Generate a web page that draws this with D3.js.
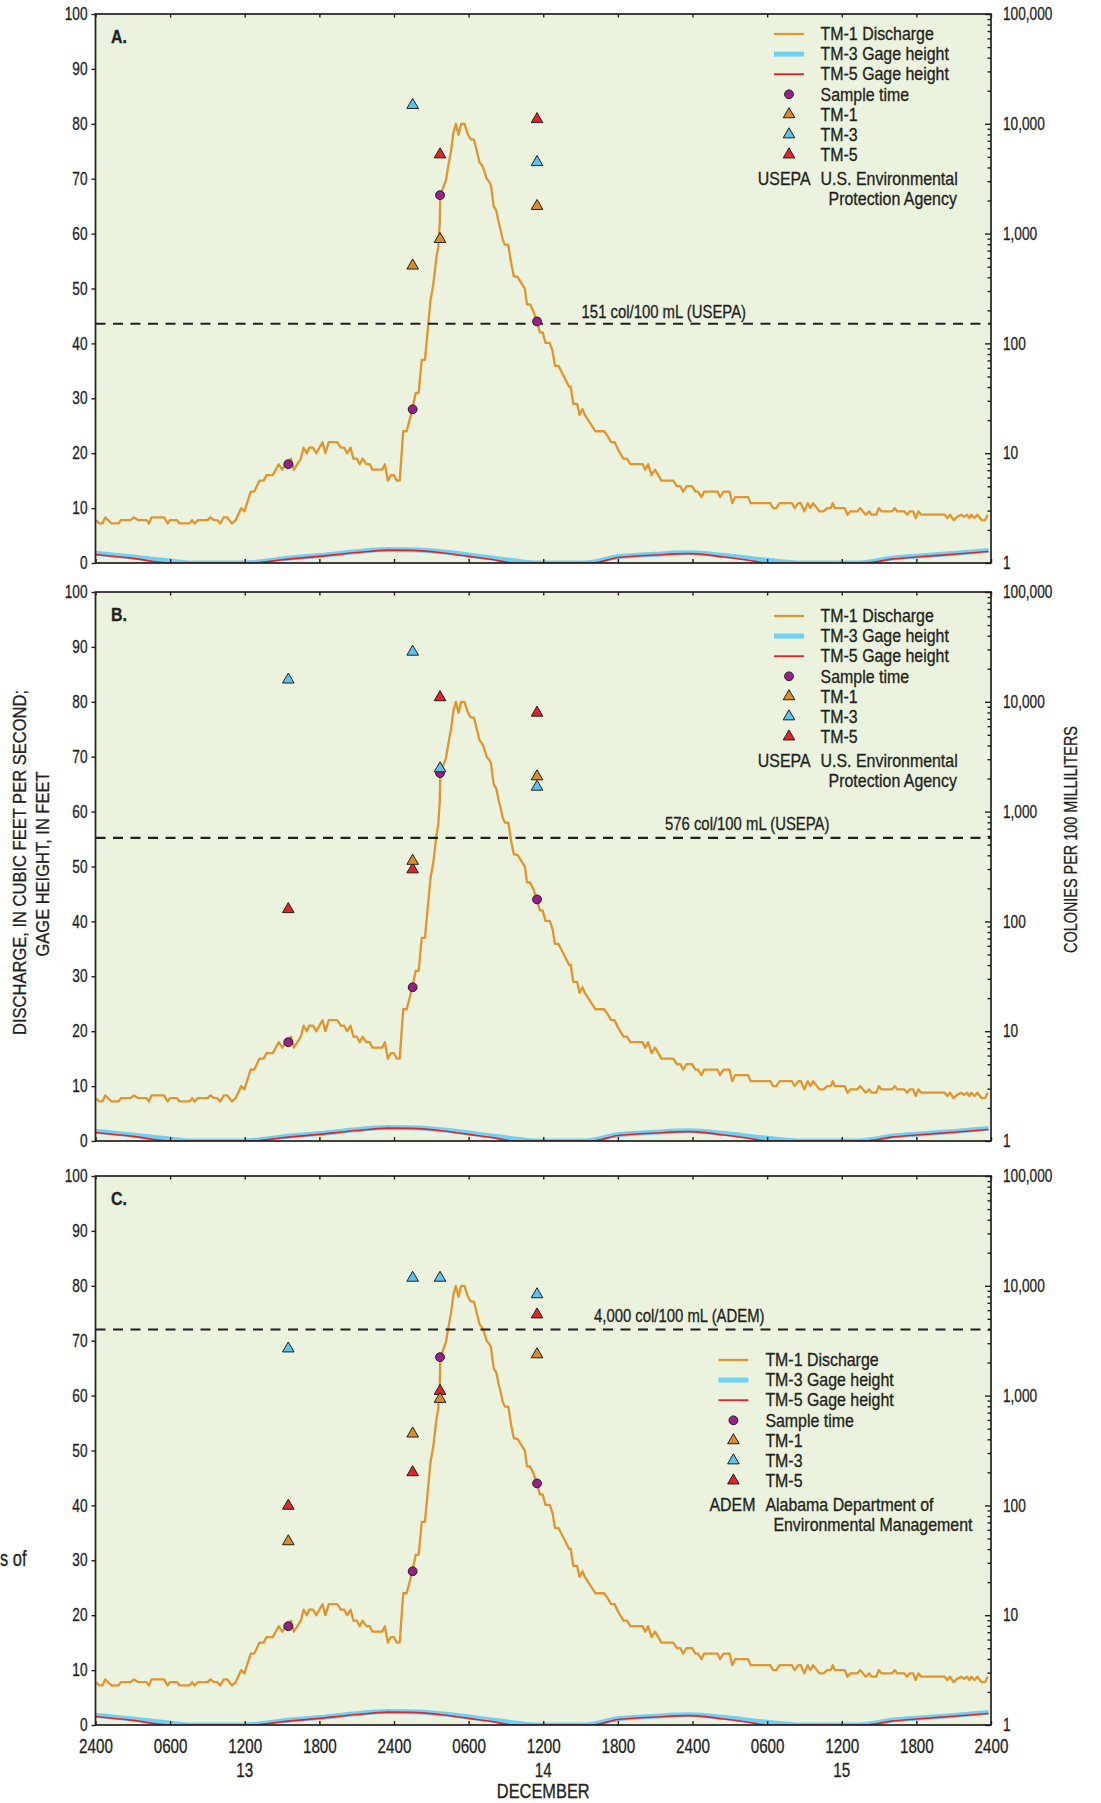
<!DOCTYPE html>
<html lang="en">
<head>
<meta charset="UTF-8">
<title>Discharge, gage height and bacteria, December 13-15</title>
<style>
  body, html { margin: 0; background: #fff; }
  svg text { font-family: "Liberation Sans", Arial, sans-serif; fill: #231f20; stroke: #231f20; stroke-width: 0.3px; }
</style>
<script src="https://d3js.org/d3.v7.min.js"></script>
</head>
<body>
<svg id="chart" width="1101" height="1803"></svg>
<script>
// ---- data (time in hours after 2400 Dec 12) ----
const timeTicks = [0, 6, 12, 18, 24, 30, 36, 42, 48, 54, 60, 66, 72];
const timeLabels = ["2400","0600","1200","1800","2400","0600","1200","1800","2400","0600","1200","1800","2400"];
const dayTicks = [12, 36, 60];
const dayLabels = ["13", "14", "15"];
const monthLabel = "DECEMBER";

// TM-1 discharge, cubic feet per second
const discharge = [
  [0.05,7.8],[0.30,7.2],[0.56,7.2],[0.78,8.3],[1.29,7.2],[1.85,7.2],[2.05,7.8],[2.81,7.8],[3.09,8.3],[3.46,7.8],
  [4.11,7.8],[4.30,7.2],[4.50,8.3],[5.52,8.3],[5.80,7.2],[5.99,7.8],[6.56,7.8],[6.76,7.2],[7.55,7.2],[7.77,7.8],
  [7.97,7.2],[8.25,7.8],[9.01,7.8],[9.24,8.3],[9.52,7.8],[9.80,7.8],[10.03,7.2],[10.31,8.3],[10.59,8.3],[10.98,7.2],
  [11.27,7.8],[11.72,10.0],[11.97,9.4],[12.48,13.0],[12.76,13.0],[13.18,15.0],[13.52,15.0],[13.75,16.0],[14.25,16.0],
  [14.73,18.0],[15.02,17.0],[15.30,18.0],[15.72,19.0],[15.95,17.0],[16.23,18.0],[16.51,19.0],[16.73,21.0],[16.99,20.0],
  [17.18,21.0],[17.49,21.0],[17.75,20.0],[18.26,22.0],[18.48,20.0],[18.76,22.0],[19.44,22.0],[19.72,21.0],[20.0,21.0],
  [20.23,20.0],[20.51,21.0],[20.74,19.0],[21.02,19.0],[21.24,18.0],[21.47,19.0],[21.78,18.0],[22.06,18.0],[22.26,17.0],
  [23.05,17.0],[23.27,18.0],[23.5,15.0],[23.75,16.0],[24.0,16.0],[24.23,15.0],[24.46,15.0],[24.74,24.0],[25.02,24.0],
  [25.25,26.0],[25.47,28.0],[25.75,31.0],[25.98,31.0],[26.23,37.0],[26.49,37.0],[26.94,48.0],[27.14,50.4],[27.42,55.8],
  [27.56,57.6],[27.68,62.0],[27.72,67.0],[27.9,68.0],[28.18,69.8],[28.40,72.8],[28.60,75.2],[28.77,78.3],[28.97,80.0],
  [29.19,78.0],[29.40,80.0],[29.67,80.0],[29.90,78.3],[30.09,77.4],[30.26,77.1],[30.43,77.1],[30.66,75.0],[30.88,73.0],
  [31.08,72.4],[31.22,71.7],[31.45,70.0],[31.64,69.5],[31.79,68.9],[32.01,65.0],[32.24,64.1],[32.40,62.2],[32.57,60.7],
  [32.74,58.9],[32.91,58.0],[33.19,58.0],[33.42,54.6],[33.64,52.2],[33.93,52.1],[34.32,50.7],[34.52,50.0],[34.69,47.1],
  [34.94,47.1],[35.22,45.8],[35.48,44.0],[35.73,42.0],[35.96,42.0],[36.18,40.1],[36.52,40.1],[36.75,38.6],[36.94,35.9],
  [37.23,35.9],[37.65,34.0],[38.07,32.1],[38.21,32.1],[38.41,29.0],[38.72,29.0],[38.92,27.0],[39.15,28.0],[39.34,27.0],
  [39.77,25.5],[40.19,24.0],[40.90,24.0],[41.18,23.1],[41.46,22.0],[41.74,22.0],[42.03,20.6],[42.45,19.0],[42.73,19.0],
  [43.01,18.0],[44.0,18.0],[44.2,17.0],[44.43,18.0],[44.71,16.0],[44.99,17.0],[45.5,15.0],[46.46,15.0],[46.74,14.0],
  [47.02,14.0],[47.25,13.0],[47.53,14.0],[47.96,14.0],[48.24,13.0],[48.44,13.0],[48.72,12.0],[48.94,13.0],[50.02,13.0],
  [50.21,12.0],[50.5,13.0],[50.98,13.0],[51.2,10.9],[51.43,12.0],[52.47,12.0],[52.67,10.9],[54.25,10.9],[54.48,10.0],
  [54.73,10.0],[55.01,10.9],[56.0,10.9],[56.2,10.0],[56.51,10.9],[56.71,10.9],[56.99,9.4],[57.27,10.9],[57.47,10.0],
  [57.7,10.9],[58.2,9.4],[58.54,9.4],[58.83,10.0],[59.11,10.0],[59.28,10.9],[59.45,10.0],[60.24,10.0],[60.46,8.8],
  [60.69,9.4],[61.25,9.4],[61.48,10.0],[61.93,8.8],[62.21,9.4],[62.38,8.8],[62.78,8.8],[62.98,10.0],[63.2,9.4],
  [64.05,9.4],[64.25,10.0],[64.47,9.4],[65.04,9.4],[65.26,8.8],[65.46,9.4],[65.74,9.4],[65.94,8.2],[66.17,9.4],
  [66.39,8.8],[68.28,8.8],[68.48,8.2],[68.71,8.8],[68.99,7.8],[69.27,8.4],[69.61,8.8],[69.84,8.4],[70.06,8.8],
  [70.26,8.2],[70.4,8.8],[70.68,8.2],[70.91,8.8],[71.25,7.8],[71.53,7.8],[71.73,8.8]
];

// gage height, feet
const gageTM3 = [[0,1.75],[3,1.1],[6,0.35],[7.5,0],[12,0],[15,0.75],[18,1.35],[21,2.05],[23.5,2.45],[26,2.35],
  [28,2.0],[30,1.45],[33,0.6],[35.4,0],[39.3,0],[42,1.15],[45,1.6],[47.8,1.85],[50.6,1.35],[54,0.5],[56.8,0],
  [61.4,0],[64,0.85],[66,1.25],[69,1.75],[71.8,2.3]];
const gageTM5 = [[0,1.55],[3,0.85],[6,0],[12.7,0],[15,0.6],[18,1.2],[21,1.9],[23.5,2.35],[25.5,2.3],[27.5,1.95],
  [30,1.2],[32,0.6],[33.5,0],[39.9,0],[42,1.0],[45,1.45],[47.8,1.7],[50.5,1.1],[52.5,0.5],[54,0],[61.9,0],
  [64,0.7],[66,1.1],[69,1.6],[71.8,2.1]];

// sample times and discharge at sampling
const sampleTimes = [15.5, 25.5, 27.7, 35.5];
const sampleQ = [18, 28, 67, 44];

// colonies per 100 mL, by panel, by sample (null = not shown)
const panelNames = ["A.", "B.", "C."];
const tm1Counts = [[null, 510, 890, 1780], [null, 355, null, 2090], [47, 450, 930, 2370]];
const tm3Counts = [[null, 14800, null, 4470], [15900, 28500, 2470, 1680], [2680, 11800, 11800, 8350]];
const tm5Counts = [[null, null, 5250, 11000], [129, 297, 10970, 7940], [99, 200, 1100, 5470]];
const criteria = [151, 576, 4000];
const criteriaLabels = ["151 col/100 mL (USEPA)", "576 col/100 mL (USEPA)", "4,000 col/100 mL (ADEM)"];

const legendLabels = ["TM-1 Discharge", "TM-3 Gage height", "TM-5 Gage height", "Sample time", "TM-1", "TM-3", "TM-5"];
const agencyAbbr = ["USEPA", "USEPA", "ADEM"];
const agencyName = [["U.S. Environmental", "Protection Agency"], ["U.S. Environmental", "Protection Agency"],
  ["Alabama Department of", "Environmental Management"]];

// ---- layout ----
const svg = d3.select("#chart");
const left = 95.5, right = 991, panelH = 549;
const panelTops = [14, 592, 1176];
const legendPos = [
  {sx: 789, tx: 820.6, y0: 20},
  {sx: 789, tx: 820.6, y0: 24},
  {sx: 733.4, tx: 765.4, y0: 184}
];
const critLabelPos = [{x: 581.6, dy: -6}, {x: 665, dy: -8}, {x: 594, dy: -7}];
const ink = "#231f20";
const col = {
  bg: "#ebf2dd", q: "#e0952f", tm1: "#d98c2c", tm3: "#5cc4ec", tm3line: "#70d0f4",
  tm5: "#e3232b", sample: "#9c1d8c"
};
const fs = 17.5, fsBig = 19.5;
const sqWords = 0.91, sqNums = 0.78, sqCaps = 0.84;

// narrow the glyphs horizontally around each text's anchor (condensed face look)
function squeeze(sel, s) {
  sel.each(function () {
    const t = d3.select(this);
    const x0 = +t.attr("x") || 0, y0 = +t.attr("y") || 0;
    t.attr("transform", `translate(${x0},${y0}) scale(${s},1) translate(${-x0},${-y0})`);
  });
}

const x = d3.scaleLinear().domain([0, 72]).range([left, right]);
const tri = d3.symbol(d3.symbolTriangle, 58);

panelNames.forEach((name, i) => {
  const top = panelTops[i], bottom = top + panelH;
  const yQ = d3.scaleLinear().domain([0, 100]).range([bottom, top]);
  const yC = d3.scaleLog().domain([1, 1e5]).range([bottom, top]);
  const g = svg.append("g");

  svg.append("clipPath").attr("id", "clip" + i)
    .append("rect").attr("x", left).attr("y", top).attr("width", right - left).attr("height", panelH);

  g.append("rect").attr("x", left).attr("y", top).attr("width", right - left).attr("height", panelH)
    .attr("fill", col.bg);

  const plot = g.append("g").attr("clip-path", `url(#clip${i})`);

  // gage heights
  const gLine = d3.line().x(d => x(d[0])).y(d => yQ(d[1])).curve(d3.curveMonotoneX);
  plot.append("path").datum(gageTM3).attr("d", gLine).attr("fill", "none")
    .attr("stroke", col.tm3line).attr("stroke-width", 5);
  plot.append("path").datum(gageTM5).attr("d", gLine).attr("fill", "none")
    .attr("stroke", col.tm5).attr("stroke-width", 1.6);

  // discharge
  const qLine = d3.line().x(d => x(d[0])).y(d => yQ(d[1]));
  plot.append("path").datum(discharge).attr("d", qLine).attr("fill", "none")
    .attr("stroke", col.q).attr("stroke-width", 2.3).attr("stroke-linejoin", "round");

  // criterion line
  g.append("line").attr("x1", left).attr("x2", right)
    .attr("y1", yC(criteria[i])).attr("y2", yC(criteria[i]))
    .attr("stroke", ink).attr("stroke-width", 2.2).attr("stroke-dasharray", "10,7.5");
  g.append("text").attr("x", critLabelPos[i].x).attr("y", yC(criteria[i]) + critLabelPos[i].dy)
    .attr("font-size", fs).text(criteriaLabels[i]).call(squeeze, 0.85);

  // sample times
  g.selectAll(".smp").data(sampleTimes).join("circle")
    .attr("cx", d => x(d)).attr("cy", (d, j) => yQ(sampleQ[j])).attr("r", 4.4)
    .attr("fill", col.sample).attr("stroke", ink).attr("stroke-width", 1);

  // bacteria triangles
  [[tm5Counts, col.tm5], [tm1Counts, col.tm1], [tm3Counts, col.tm3]].forEach(([counts, c]) => {
    counts[i].forEach((v, j) => {
      if (v == null) return;
      g.append("path").attr("d", tri)
        .attr("transform", `translate(${x(sampleTimes[j])},${yC(v)})`)
        .attr("fill", c).attr("stroke", ink).attr("stroke-width", 1);
    });
  });

  // axes
  const axL = g.append("g").attr("transform", `translate(${left},0)`)
    .call(d3.axisLeft(yQ).tickValues(d3.range(0, 101, 10)).tickSize(4).tickSizeOuter(0).tickPadding(4));
  const axR = g.append("g").attr("transform", `translate(${right},0)`)
    .call(d3.axisRight(yC).tickValues([1, 10, 100, 1000, 10000, 100000]).tickSize(-6).tickSizeOuter(0)
      .tickPadding(12).tickFormat(d3.format(",")));
  const minors = [];
  [1, 10, 100, 1000, 10000].forEach(dec => { for (let k = 2; k <= 9; k++) minors.push(dec * k); });
  const axRm = g.append("g").attr("transform", `translate(${right},0)`)
    .call(d3.axisRight(yC).tickValues(minors).tickSize(-3.5).tickSizeOuter(0).tickFormat(""));
  const axT = g.append("g").attr("transform", `translate(0,${top})`)
    .call(d3.axisTop(x).tickValues(timeTicks).tickSize(-3.5).tickSizeOuter(0).tickFormat(""));
  const axB = g.append("g").attr("transform", `translate(0,${bottom})`)
    .call(d3.axisBottom(x).tickValues(timeTicks).tickSize(-4).tickSizeOuter(0)
      .tickPadding(14).tickFormat(i === 2 ? ((d, k) => timeLabels[k]) : ""));
  [axL, axR, axRm, axT, axB].forEach(a => {
    a.select(".domain").remove();
    a.selectAll("line").attr("stroke", ink).attr("stroke-width", 1.4);
    a.selectAll("text").attr("font-size", fs).attr("font-family", null).attr("fill", ink);
  });
  axB.selectAll("text").attr("font-size", fsBig);
  [axL, axR, axB].forEach(a => a.selectAll("text").call(squeeze, sqNums));

  g.append("rect").attr("x", left).attr("y", top).attr("width", right - left).attr("height", panelH)
    .attr("fill", "none").attr("stroke", ink).attr("stroke-width", 1.7);

  g.append("text").attr("x", 111).attr("y", top + 29.5).attr("font-size", fs)
    .attr("font-weight", "bold").text(name).call(squeeze, sqWords);

  // legend
  const lp = legendPos[i];
  const rowY = k => top + lp.y0 + k * 20.1;
  const lg = g.append("g");
  const lineStyles = [[col.q, 2.2], [col.tm3line, 5], [col.tm5, 1.8]];
  lineStyles.forEach(([c, w], k) => {
    lg.append("line").attr("x1", lp.sx - 15).attr("x2", lp.sx + 15)
      .attr("y1", rowY(k)).attr("y2", rowY(k)).attr("stroke", c).attr("stroke-width", w);
  });
  lg.append("circle").attr("cx", lp.sx).attr("cy", rowY(3)).attr("r", 4.4)
    .attr("fill", col.sample).attr("stroke", ink);
  [col.tm1, col.tm3, col.tm5].forEach((c, k) => {
    lg.append("path").attr("d", tri).attr("transform", `translate(${lp.sx},${rowY(4 + k)})`)
      .attr("fill", c).attr("stroke", ink);
  });
  legendLabels.forEach((t, k) => {
    lg.append("text").attr("x", lp.tx).attr("y", rowY(k)).attr("dy", "0.36em")
      .attr("font-size", fs).text(t);
  });
  const ay = rowY(6) + 24.2;
  lg.append("text").attr("x", lp.tx - 10).attr("y", ay).attr("dy", "0.36em")
    .attr("text-anchor", "end").attr("font-size", fs).text(agencyAbbr[i]);
  lg.append("text").attr("x", lp.tx).attr("y", ay).attr("dy", "0.36em")
    .attr("font-size", fs).text(agencyName[i][0]);
  lg.append("text").attr("x", lp.tx + 8).attr("y", ay + 20.1).attr("dy", "0.36em")
    .attr("font-size", fs).text(agencyName[i][1]);
  lg.selectAll("text").call(squeeze, sqWords);
});

// day and month labels below panel C
const baseB = panelTops[2] + panelH;
svg.selectAll(".day").data(dayTicks).join("text")
  .attr("x", d => x(d)).attr("y", baseB + 52).attr("text-anchor", "middle")
  .attr("font-size", fsBig).text((d, k) => dayLabels[k]).call(squeeze, sqNums);
svg.append("text").attr("x", x(36)).attr("y", baseB + 73).attr("text-anchor", "middle")
  .attr("font-size", fsBig).text(monthLabel).call(squeeze, sqCaps);

// axis titles
svg.append("text").attr("transform", "translate(26.3,862.5) rotate(-90)").attr("text-anchor", "middle")
  .attr("font-size", 19).attr("textLength", 345).attr("lengthAdjust", "spacingAndGlyphs")
  .text("DISCHARGE, IN CUBIC FEET PER SECOND;");
svg.append("text").attr("transform", "translate(49.3,864) rotate(-90)").attr("text-anchor", "middle")
  .attr("font-size", 19).attr("textLength", 185).attr("lengthAdjust", "spacingAndGlyphs")
  .text("GAGE HEIGHT, IN FEET");
svg.append("text").attr("transform", "translate(1076.5,839.5) rotate(-90)").attr("text-anchor", "middle")
  .attr("font-size", 19).attr("textLength", 227).attr("lengthAdjust", "spacingAndGlyphs")
  .text("COLONIES PER 100 MILLILITERS");

// caption fragment at the page edge
svg.append("text").attr("x", 0).attr("y", 1566)
  .attr("font-size", 22).text("s of").call(squeeze, 0.75);
</script>
</body>
</html>
